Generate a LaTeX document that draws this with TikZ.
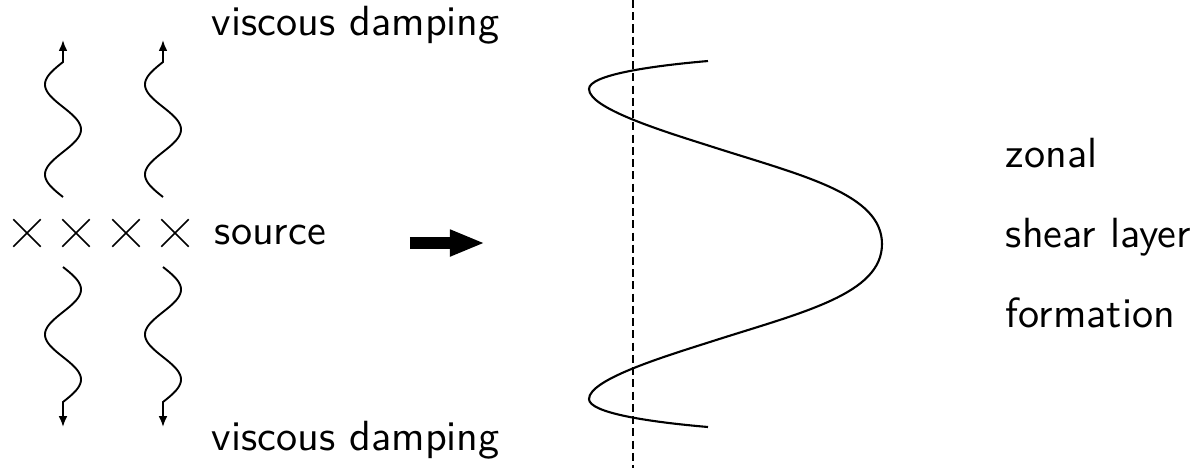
\documentclass[tikz,border=0pt]{standalone}
\usetikzlibrary{arrows.meta,shapes.misc}

\begin{document}
\begin{tikzpicture}[x=0.237pt,y=-0.237pt,>={Latex[length=2.6pt,width=2.1pt]},font=\sffamily,
    lbl/.style={anchor=base west,inner sep=0pt},
    src/.style={draw,cross out,minimum size=6.1pt,inner sep=0pt,line width=0.4pt},
    wave/.style={->,line width=0.45pt}]
  \useasboundingbox (0,0) rectangle (1195,472);
  \node[lbl] (topdamp) at (211,35) {viscous damping};
  \node[lbl] (botdamp) at (211,450) {viscous damping};
  \node[lbl] (source) at (214,244) {source};
  \foreach \xx [count=\i] in {27,76,126,175}
    \node[src] (s\i) at (\xx,233) {};
  \foreach \xx in {63,163} {
    \draw[wave] plot[domain=0:540,samples=91,smooth] ({\xx-18*sin(\x)},{197-\x/4}) -- (\xx,40);
    \draw[wave] plot[domain=0:540,samples=91,smooth] ({\xx+18*sin(\x)},{267+\x/4}) -- (\xx,427);
  }
  \coordinate (arrS) at (410,243);
  \coordinate (arrE) at (485,243);
  \draw[line width=2.85pt,-{Triangle[length=8.3pt,width=5.8pt]}] (arrS) -- (arrE);
  \coordinate (axT) at (633,0);
  \coordinate (axB) at (633,468);
  \draw[line width=0.45pt,dash pattern=on 1.9pt off 1pt] (axT) -- (axB);
  \draw[line width=0.5pt] (708,61) .. controls (650,66) and (589,75) .. (589,89)
    .. controls (589,109) and (668,132.6) .. (713,147)
    .. controls (803,175.8) and (882,194) .. (882,244)
    .. controls (882,294) and (803,312.2) .. (713,341)
    .. controls (668,355.4) and (589,379) .. (589,399)
    .. controls (589,413) and (650,422) .. (708,427);
  \node[lbl] (zonal) at (1005,167) {zonal};
  \node[lbl] (shear) at (1005,247) {shear layer};
  \node[lbl] (form) at (1005,327) {formation};
\end{tikzpicture}
\end{document}
